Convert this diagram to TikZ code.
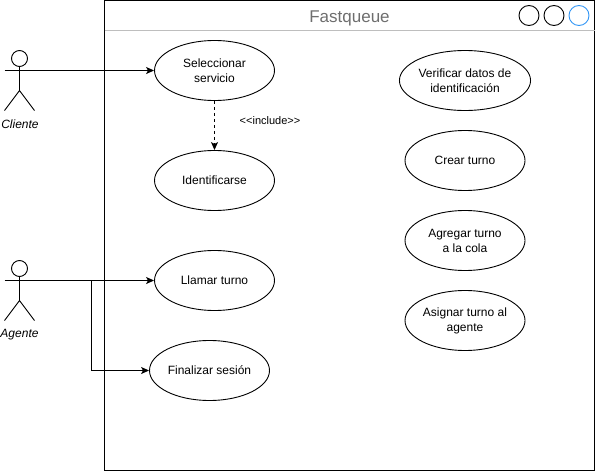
\documentclass[tikz,border=0pt]{standalone}
\usepackage{fontspec}
\setmainfont{Liberation Sans}
\usetikzlibrary{arrows.meta,shapes.geometric}
\tikzset{
  usecase/.style={ellipse,draw=black,line width=0.9pt,minimum width=120pt,minimum height=60pt,inner sep=0pt,align=center,font=\fontsize{12}{15}\selectfont},
  winbtn/.style={circle,draw=#1,line width=0.9pt,minimum size=20pt,inner sep=0pt},
  limb/.style={draw=black,line width=0.9pt},
  conn/.style={draw=black,line width=0.9pt,-{Stealth[length=8pt,width=7pt,inset=2pt]}},
  actorlabel/.style={font=\fontsize{12}{14}\selectfont\itshape,inner sep=0pt}
}
\definecolor{hdr}{RGB}{190,190,190}
\definecolor{ttl}{RGB}{110,110,110}
\definecolor{blu}{RGB}{50,150,245}
\begin{document}
\begin{tikzpicture}[x=1pt,y=-1pt]
\useasboundingbox (0,0) rectangle (595,471);
% window
\draw[black,line width=0.9pt] (104.5,0.5) rectangle (594.5,470.5);
\draw[hdr,line width=0.9pt] (104.5,30.5) -- (594.5,30.5);
\node[font=\fontsize{17}{20}\selectfont,text=ttl,inner sep=0pt] (title) at (349.5,18) {Fastqueue};
\node[winbtn=black] (b1) at (529,15.5) {};
\node[winbtn=black] (b2) at (554,15.5) {};
\node[winbtn=blu] (b3) at (579,15.5) {};
% use cases
\node[usecase] (sel) at (214.5,70.5) {Seleccionar\\servicio};
\node[usecase] (ide) at (214.5,180.5) {Identificarse};
\node[usecase] (lla) at (214.5,280.5) {Llamar turno};
\node[usecase] (fin) at (209.5,370.5) {Finalizar sesión};
\node[usecase] (ver) at (465,80.5) {Verificar datos de\\identificación};
\node[usecase] (cre) at (465,160.5) {Crear turno};
\node[usecase] (agr) at (465,240.5) {Agregar turno\\a la cola};
\node[usecase] (asi) at (465,320.5) {Asignar turno al\\agente};
% actor Cliente
\node[circle,draw=black,line width=0.9pt,minimum size=16pt,inner sep=0pt] (h1) at (19.5,58.5) {};
\coordinate (ar1) at (34.5,70.5);
\coordinate (hip1) at (19.5,90.5);
\coordinate (ll1) at (4.5,110.5);
\coordinate (rl1) at (34.5,110.5);
\coordinate (al1) at (4.5,70.5);
\path[limb] (h1.south) -- (hip1) (ll1) -- (hip1) -- (rl1);
\path[limb] (al1) -- (ar1);
\node[actorlabel] (c1) at (20,124.5) {Cliente};
% actor Agente
\node[circle,draw=black,line width=0.9pt,minimum size=16pt,inner sep=0pt] (h2) at (19.5,268.5) {};
\coordinate (ar2) at (34.5,280.5);
\coordinate (hip2) at (19.5,300.5);
\coordinate (ll2) at (4.5,320.5);
\coordinate (rl2) at (34.5,320.5);
\coordinate (al2) at (4.5,280.5);
\path[limb] (h2.south) -- (hip2) (ll2) -- (hip2) -- (rl2);
\path[limb] (al2) -- (ar2);
\node[actorlabel] (c2) at (19.5,334.5) {Agente};
% connectors
\draw[conn] (ar1) -- (sel.west);
\draw[conn] (ar2) -- (lla.west);
\coordinate (jn) at (91.5,280.5);
\draw[conn] (jn) |- (fin.west);
\draw[conn,dashed,dash pattern=on 3pt off 3pt] (sel.south) -- (ide.north);
\node[font=\fontsize{11}{13}\selectfont,inner sep=0pt] (inc) at (270,120.5) {<{}<include>{}>};
\end{tikzpicture}
\end{document}
